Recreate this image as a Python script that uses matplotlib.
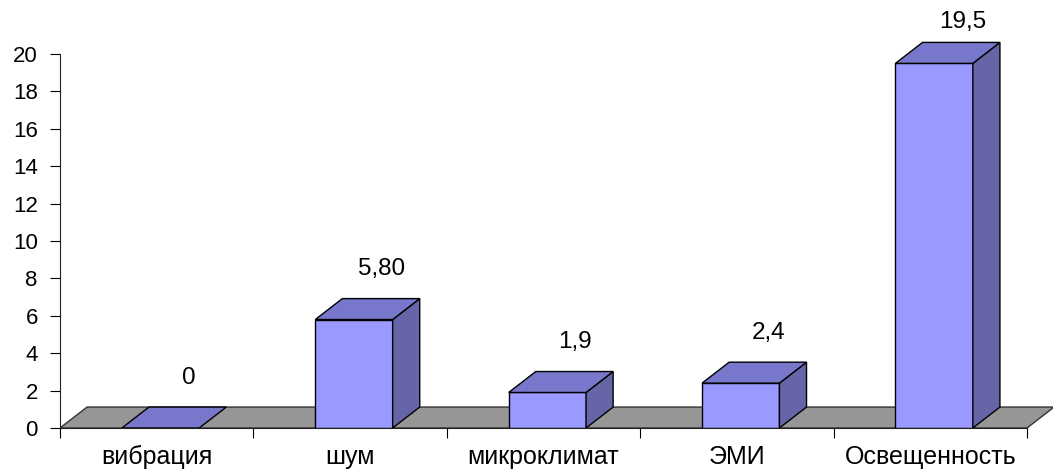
import matplotlib
matplotlib.use("Agg")
import matplotlib.pyplot as plt
from matplotlib.patches import Polygon

categories = ["вибрация", "шум", "микроклимат", "ЭМИ", "Освещенность"]
values = [0, 5.8, 1.9, 2.4, 19.5]
value_labels = ["0", "5,80", "1,9", "2,4", "19,5"]
y_ticks = [0, 2, 4, 6, 8, 10, 12, 14, 16, 18, 20]

plt.rcParams["font.family"] = ["Liberation Sans", "DejaVu Sans"]

FRONT = "#9999ff"
TOP = "#7777cc"
SIDE = "#6565a8"
FLOOR = "#969696"

# pseudo-3D depth offset (in data units)
dx, dy = 0.14, 1.12
bar_w = 0.40
shift = 0.02

fig = plt.figure(figsize=(10.53, 4.70), dpi=100)
ax = fig.add_axes([60 / 1053, 42 / 470, 993 / 1053, 428 / 470])
ax.set_xlim(-0.5, -0.5 + 993 / 193.4)
ax.set_ylim(0, 428 / 18.7)

n = len(categories)
floor = Polygon([(-0.5, 0), (n - 0.5, 0), (n - 0.5 + dx, dy), (-0.5 + dx, dy)],
                closed=True, facecolor=FLOOR, edgecolor="#333333", lw=1, zorder=1)
ax.add_patch(floor)

for i, v in enumerate(values):
    x0 = i + shift - bar_w / 2
    x1 = i + shift + bar_w / 2
    if v > 0:
        ax.add_patch(Polygon([(x0, 0), (x1, 0), (x1, v), (x0, v)],
                             facecolor=FRONT, edgecolor="black", lw=1, zorder=3))
        ax.add_patch(Polygon([(x1, 0), (x1 + dx, dy), (x1 + dx, v + dy), (x1, v)],
                             facecolor=SIDE, edgecolor="black", lw=1, zorder=3))
    ax.add_patch(Polygon([(x0, v), (x1, v), (x1 + dx, v + dy), (x0 + dx, v + dy)],
                         facecolor=TOP, edgecolor="black", lw=1, zorder=3))
    ax.text(i + 0.165, min(v + 2.7, 21.7), value_labels[i], ha="center", va="center",
            fontsize=17.5, zorder=4)

for s in ["top", "right"]:
    ax.spines[s].set_visible(False)
ax.spines["left"].set_bounds(0, 20)
ax.spines["bottom"].set_bounds(-0.5, n - 0.5)
for s in ["left", "bottom"]:
    ax.spines[s].set_color("#222222")
    ax.spines[s].set_zorder(5)

ax.set_yticks(y_ticks)
ax.tick_params(axis="y", length=7, pad=9, labelsize=16)

ax.set_xticks([i - 0.5 for i in range(n + 1)])
ax.set_xticklabels([])
ax.set_xticks(range(n), minor=True)
ax.set_xticklabels(categories, minor=True)
ax.tick_params(axis="x", which="major", length=7)
ax.tick_params(axis="x", which="minor", length=0, pad=12, labelsize=18)

fig.savefig("out.png", dpi=100)
